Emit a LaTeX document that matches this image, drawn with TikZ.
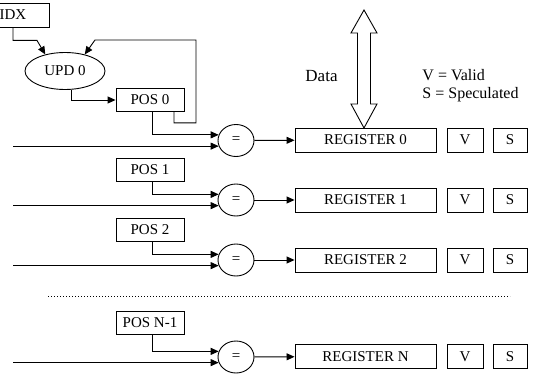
\documentclass[tikz,border=0pt]{standalone}
\usepackage{fontspec}
\setmainfont{Liberation Serif}
\usetikzlibrary{arrows.meta,shapes.geometric}
\begin{document}
\begin{tikzpicture}[x=1pt,y=-1pt,line width=0.9pt,
  txt/.style={font=\fontsize{15}{15}\selectfont},
  box/.style={draw,rectangle,inner sep=0pt,minimum height=23pt,txt},
  cmp/.style={draw,ellipse,inner sep=0pt,minimum width=36pt,minimum height=32pt,txt},
  arr/.style={-{Triangle[length=8pt,width=7pt]}},
  lbl/.style={font=\fontsize{17}{15}\selectfont,inner sep=0pt},
  leg/.style={font=\fontsize{16}{15}\selectfont,inner sep=0pt,anchor=base west}]
\useasboundingbox (0,0) rectangle (535,377);
\clip (0,0) rectangle (535,377);

% index source and update unit
\node[box,minimum width=72pt,minimum height=24pt] (idx) at (13,15) {IDX};
\node[draw,ellipse,inner sep=0pt,minimum width=80pt,minimum height=37pt,txt] (upd) at (65,71) {UPD 0};

% position registers
\node[box,minimum width=68pt] (pos0) at (150,100) {POS 0};
\node[box,minimum width=68pt] (pos1) at (150,170) {POS 1};
\node[box,minimum width=68pt] (pos2) at (150,230) {POS 2};
\node[box,minimum width=68pt] (posN) at (150,323) {POS N-1};

% comparators
\node[cmp] (eq0) at (236,140.5) {=};
\node[cmp] (eq1) at (236,200) {=};
\node[cmp] (eq2) at (236,260) {=};
\node[cmp] (eqN) at (236,357) {=};

% register file with valid and speculated flags
\foreach \r/\y/\t in {0/140/REGISTER 0,1/200/REGISTER 1,2/260/REGISTER 2,N/356.5/REGISTER N}{
  \node[box,minimum width=141pt,minimum height=24pt] (reg\r) at (365.5,\y) {\t};
  \node[box,minimum width=36pt,minimum height=24pt] (v\r) at (465,\y) {V};
  \node[box,minimum width=34pt,minimum height=24pt] (s\r) at (510,\y) {S};
}

% left edge of the incoming lines
\coordinate (left) at (13,0);
\coordinate (fb) at (196,40);

% update loop
\draw[arr] (idx.south) -- ++(0,13) -- ++(24,0) -- (upd.140);
\draw[arr] ([xshift=6pt]upd.south) |- (pos0.west);
\draw[arr] ([xshift=24pt]pos0.south) -- ++(0,11) -| (fb) -- ++(-101,0) -- (upd.40);

% comparator inputs and outputs
\foreach \r in {0,1,2,N}{
  \draw[arr] ([xshift=2pt]pos\r.south) |- (eq\r.162);
  \draw[arr] (eq\r.198 -| left) -- (eq\r.198);
  \draw[arr] (eq\r) -- (reg\r);
}

% data bus
\draw (364,10) -- (377,33) -- (370.5,33) -- (370.5,104) -- (377,104) -- (364,128)
  -- (351,104) -- (357.5,104) -- (357.5,33) -- (351,33) -- cycle;
\node[lbl,anchor=base] (data) at (321.5,82) {Data};

% legend
\node[leg] (legv) at (422,81) {V = Valid};
\node[leg] (legs) at (422,99) {S = Speculated};

% elided rows
\draw[line width=0.8pt,dash pattern=on 0.8pt off 2.2pt] (48,296) -- (510,296);
\end{tikzpicture}
\end{document}
